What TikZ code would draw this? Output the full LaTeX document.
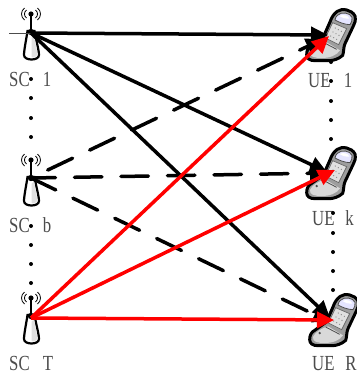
\documentclass[tikz,border=0pt]{standalone}
\usepackage{fontspec}
\setmainfont{Liberation Serif}
\usetikzlibrary{arrows.meta}
\definecolor{lbl}{gray}{0.3}
\newcommand{\narrowtext}[1]{\scalebox{.78}[1]{\fontsize{21.5}{21.5}\selectfont #1}}
\tikzset{
  link/.style={line width=3.5pt,-{Triangle[length=17pt,width=16pt]}},
  blacklink/.style={link,black},
  dashlink/.style={link,black,line cap=round,dash pattern=on 27.5pt off 19pt},
  redlink/.style={link,red},
  lab/.style={anchor=base west,inner sep=0pt,text=lbl},
  seqdot/.style={fill=black,draw=none},
  tower/.pic={
    \draw[line width=2.2pt,fill=white] (-3.5,-1) -- (3.5,-1) .. controls (4.5,6) and (8,18) .. (8,23)
      .. controls (8,29) and (-7,29) .. (-7,23) .. controls (-7,18) and (-4.5,6) .. (-3.5,-1) -- cycle;
    \fill[black!12] (0.5,6) -- (3,3) .. controls (4,10) and (6,18) .. (6.2,23) .. controls (4,26) and (0,26) .. (0.5,24) -- cycle;
    \draw[line width=2pt] (0,-18) -- (0,0);
    \fill (0,-18) circle (2.6pt);
    \fill (0,0) circle (3.2pt);
    \draw[line width=.8pt] (-4.5,-22) .. controls (-7.2,-20) and (-7.2,-16) .. (-4.5,-14);
    \draw[line width=.8pt] (-6.5,-24) .. controls (-10.5,-21) and (-10.5,-15) .. (-6.5,-12);
    \draw[line width=.8pt] (4.5,-22) .. controls (7.2,-20) and (7.2,-16) .. (4.5,-14);
    \draw[line width=.8pt] (6.5,-24) .. controls (10.5,-21) and (10.5,-15) .. (6.5,-12);
  },
  phone/.pic={
    \begin{scope}[scale=1/3]
    \draw[line width=3pt,fill=black!38] (172,28) .. controls (185,18) and (215,22) .. (225,42)
      .. controls (228,55) and (224,65) .. (220,72) -- (195,125) .. controls (190,135) and (192,150) .. (188,160)
      .. controls (175,172) and (160,175) .. (150,176) -- (105,176) .. controls (90,176) and (80,170) .. (80,158)
      .. controls (80,145) and (85,135) .. (95,130) -- (130,105) -- (150,60) .. controls (155,45) and (162,35) .. (172,28) -- cycle;
    \fill[black!15] (90,150) .. controls (95,135) and (120,122) .. (135,118) -- (180,145)
      .. controls (170,160) and (150,168) .. (125,168) .. controls (105,168) and (88,165) .. (90,150) -- cycle;
    \fill[black!12] (158,62) -- (200,80) -- (176,128) -- (136,108) -- cycle;
    \draw[line width=.7pt,black!60] (158,62) -- (200,80) -- (176,128) -- (136,108) -- cycle;
    \foreach \u in {0,1,2}\foreach \v in {0,1,2}
      \fill[black!45] (166+\u*9+\v*-7,78+\u*5+\v*12) circle (2);
    \draw[line width=.8pt,fill=blue!10!white,draw=black!70] (172,40) .. controls (185,28) and (210,32) .. (216,46)
      .. controls (218,55) and (214,62) .. (210,68) .. controls (195,68) and (175,60) .. (165,54) .. controls (166,48) and (168,44) .. (172,40) -- cycle;
    \fill[white] (178,42) .. controls (190,36) and (205,40) .. (208,50) .. controls (195,50) and (185,48) .. (178,42) -- cycle;
    \draw[line width=.8pt,black!70] (128,120) -- (170,142);
    \fill[black!70] (110,138) circle (4);
    \end{scope}
  }
}
\begin{document}
\begin{tikzpicture}[x=1pt,y=-1pt]
\useasboundingbox (0,0) rectangle (357,376);
\fill[white] (0,0) rectangle (357,376);

% named ends
\coordinate (sc1) at (31,33);
\coordinate (scb) at (31,178);
\coordinate (sct) at (31,318);
\coordinate (sc1stub) at (9,33);
\coordinate (ue1a) at (328,35);
\coordinate (ue1b) at (323,39);
\coordinate (ue1c) at (329,36);
\coordinate (ueka) at (327,172);
\coordinate (uekb) at (327,173);
\coordinate (uekc) at (335,170);
\coordinate (uera) at (330,318);
\coordinate (uerb) at (330,322);
\coordinate (uerc) at (334,320);

% labels
\node[lab] (lsc1) at (9,86) {\narrowtext{SC\hspace{17pt}1}};
\node[lab] (lscb) at (9,232) {\narrowtext{SC\hspace{17pt}b}};
\node[lab] (lsct) at (9,370) {\narrowtext{SC\hspace{17pt}T}};
\node[lab] (lue1) at (308,87) {\narrowtext{UE\hspace{17pt}1}};
\node[lab] (luek) at (312,225) {\narrowtext{UE\hspace{14pt}k}};
\node[lab] (luer) at (312,370) {\narrowtext{UE\hspace{14pt}R}};

% dots
\foreach \y in {79,98,118,137,226,245,264,283} \fill[seqdot] (31,\y) circle (2pt);
\foreach \y in {62,81,101,120,139} \fill[seqdot] (331,\y) circle (2pt);
\foreach \y in {213,233,252,271,290} \fill[seqdot] (333,\y) circle (2pt);

% devices
\pic at (31,32) {tower};
\pic at (31,178) {tower};
\pic at (31,316) {tower};
\pic at (280,2) {phone};
\pic at (280,140) {phone};
\pic at (283,287) {phone};

% connectors
\draw[line width=1pt,black!70] (sc1stub) -- (sc1);
\draw[blacklink] (sc1) -- (ue1a);
\draw[blacklink] (sc1) -- (ueka);
\draw[blacklink] (sc1) -- (uera);
\draw[dashlink,dash phase=28pt] (scb) -- (ue1b);
\draw[dashlink,dash phase=3pt] (scb) -- (uekb);
\draw[dashlink] (scb) -- (uerb);
\draw[redlink] (sct) -- (ue1c);
\draw[redlink] (sct) -- (uekc);
\draw[redlink] (sct) -- (uerc);
\end{tikzpicture}
\end{document}
